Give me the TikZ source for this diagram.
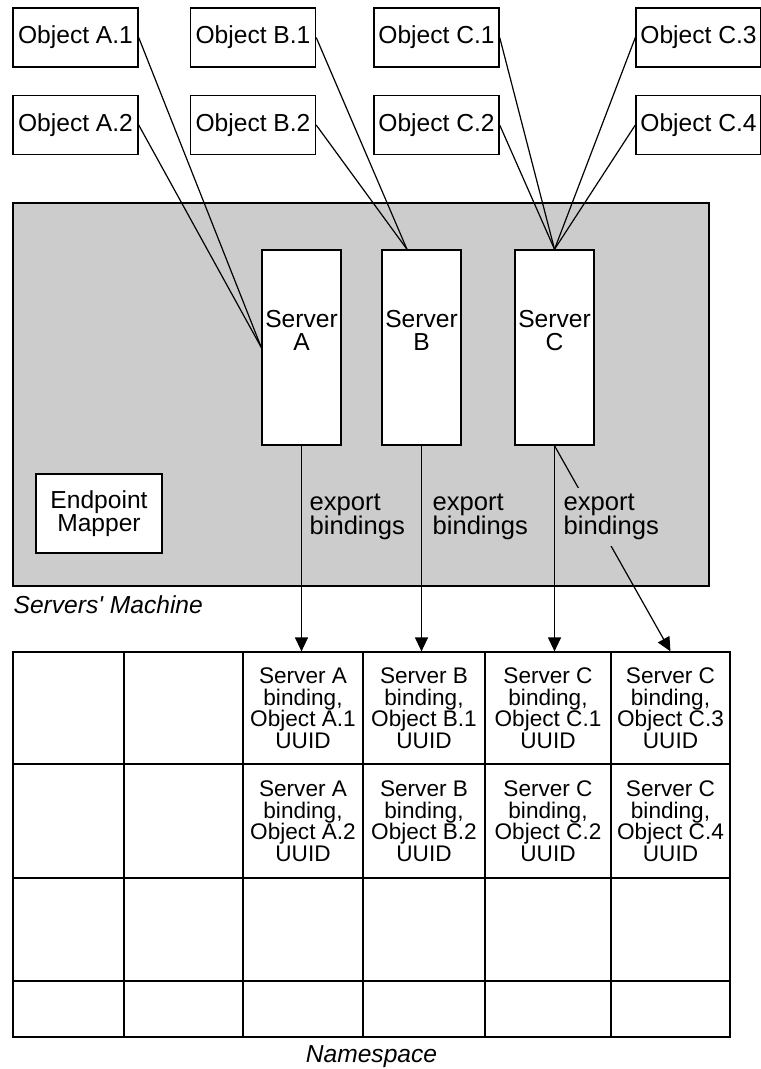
\documentclass[tikz,border=0pt]{standalone}
\usepackage{fontspec}
\setmainfont{Liberation Sans}
\usetikzlibrary{arrows.meta}
\definecolor{machinegray}{HTML}{CCCCCC}

\begin{document}
\begin{tikzpicture}[x=0.5pt,y=-0.5pt,line width=0.6pt,>={Triangle[length=7pt,width=6.5pt]}]
\tikzstyle{box}=[draw,fill=white,line width=0.7pt,inner sep=0pt,align=center,font=\fontsize{12.3}{11.5}\selectfont]
\tikzstyle{obj}=[box,minimum width=62.5pt,minimum height=29.5pt]
\tikzstyle{server}=[box,minimum width=39.5pt,minimum height=97.5pt]
\tikzstyle{srvlbl}=[anchor=north,align=center,inner sep=0pt,yshift=-30pt,font=\fontsize{12.3}{11.5}\selectfont]
\tikzstyle{expl}=[anchor=west,align=left,fill=machinegray,inner xsep=2pt,inner ysep=3pt,font=\fontsize{12.8}{12}\selectfont]
\tikzstyle{cell}=[minimum height=56pt,inner sep=0pt,align=center,font=\fontsize{11.3}{10.75}\selectfont]
\tikzstyle{caption}=[inner sep=0pt,font=\fontsize{12.3}{12}\selectfont\itshape]
\useasboundingbox (0,0) rectangle (760,1069);

\node[box,fill=machinegray,minimum width=348pt,minimum height=191.5pt] (M) at (361,394.5) {};
\node[caption,anchor=west] (ML) at (13,605) {Servers\textquotesingle{} Machine};

\node[obj] (A1) at (75.5,37.5) {Object A.1};
\node[obj] (A2) at (75.5,125) {Object A.2};
\node[obj] (B1) at (253,37.5) {Object B.1};
\node[obj] (B2) at (253,125) {Object B.2};
\node[obj] (C1) at (436.5,37.5) {Object C.1};
\node[obj] (C2) at (436.5,125) {Object C.2};
\node[obj] (C3) at (698.5,37.5) {Object C.3};
\node[obj] (C4) at (698.5,125) {Object C.4};

\node[server,label={[srvlbl]north:{Server\\A}}] (SA) at (301.5,347.5) {};
\node[server,label={[srvlbl]north:{Server\\B}}] (SB) at (421.5,347.5) {};
\node[server,label={[srvlbl]north:{Server\\C}}] (SC) at (554.5,347.5) {};
\node[box,minimum width=63pt,minimum height=39.5pt] (EM) at (99,513.5) {Endpoint\\Mapper};

\draw (A1.east) -- (SA.west);
\draw (A2.east) -- (SA.west);
\draw (B1.east) -- ([xshift=-7.25pt]SB.north);
\draw (B2.east) -- ([xshift=-7.25pt]SB.north);
\foreach \o in {C1,C2} \draw (\o.east) -- (SC.north);
\foreach \o in {C3,C4} \draw (\o.west) -- (SC.north);

\draw[line width=0.7pt] (13,652) rectangle (730,1037);
\foreach \x in {124,243,363,485,611} \draw[line width=0.7pt] (\x,652) -- (\x,1037);
\foreach \y in {764,878,981} \draw[line width=0.7pt] (13,\y) -- (730,\y);

\foreach \nm/\cx/\cw/\sv/\ob in {tA1/303/120/A/A.1, tB1/424/122/B/B.1, tC1/548/126/C/C.1, tC3/670.5/119/C/C.3}
  \node[cell,minimum width=\cw*0.5pt] (\nm) at (\cx,708) {Server \sv\\binding,\\Object \ob\\UUID};
\foreach \nm/\cx/\cw/\sv/\ob in {tA2/303/120/A/A.2, tB2/424/122/B/B.2, tC2/548/126/C/C.2, tC4/670.5/119/C/C.4}
  \node[cell,minimum width=\cw*0.5pt] (\nm) at (\cx,821) {Server \sv\\binding,\\Object \ob\\UUID};

\draw[->] (SA.south) -- (SA.south |- tA1.north);
\draw[->] (SB.south) -- (SB.south |- tB1.north);
\draw[->] (SC.south) -- (SC.south |- tC1.north);
\draw[->] (SC.south) -- (tC3.north);

\node[expl] (xA) at (305,517) {export\\bindings};
\node[expl] (xB) at (428,517) {export\\bindings};
\node[expl] (xC) at (559,517) {export\\bindings};

\node[caption] (NS) at (371.5,1057) {Namespace};
\end{tikzpicture}
\end{document}
